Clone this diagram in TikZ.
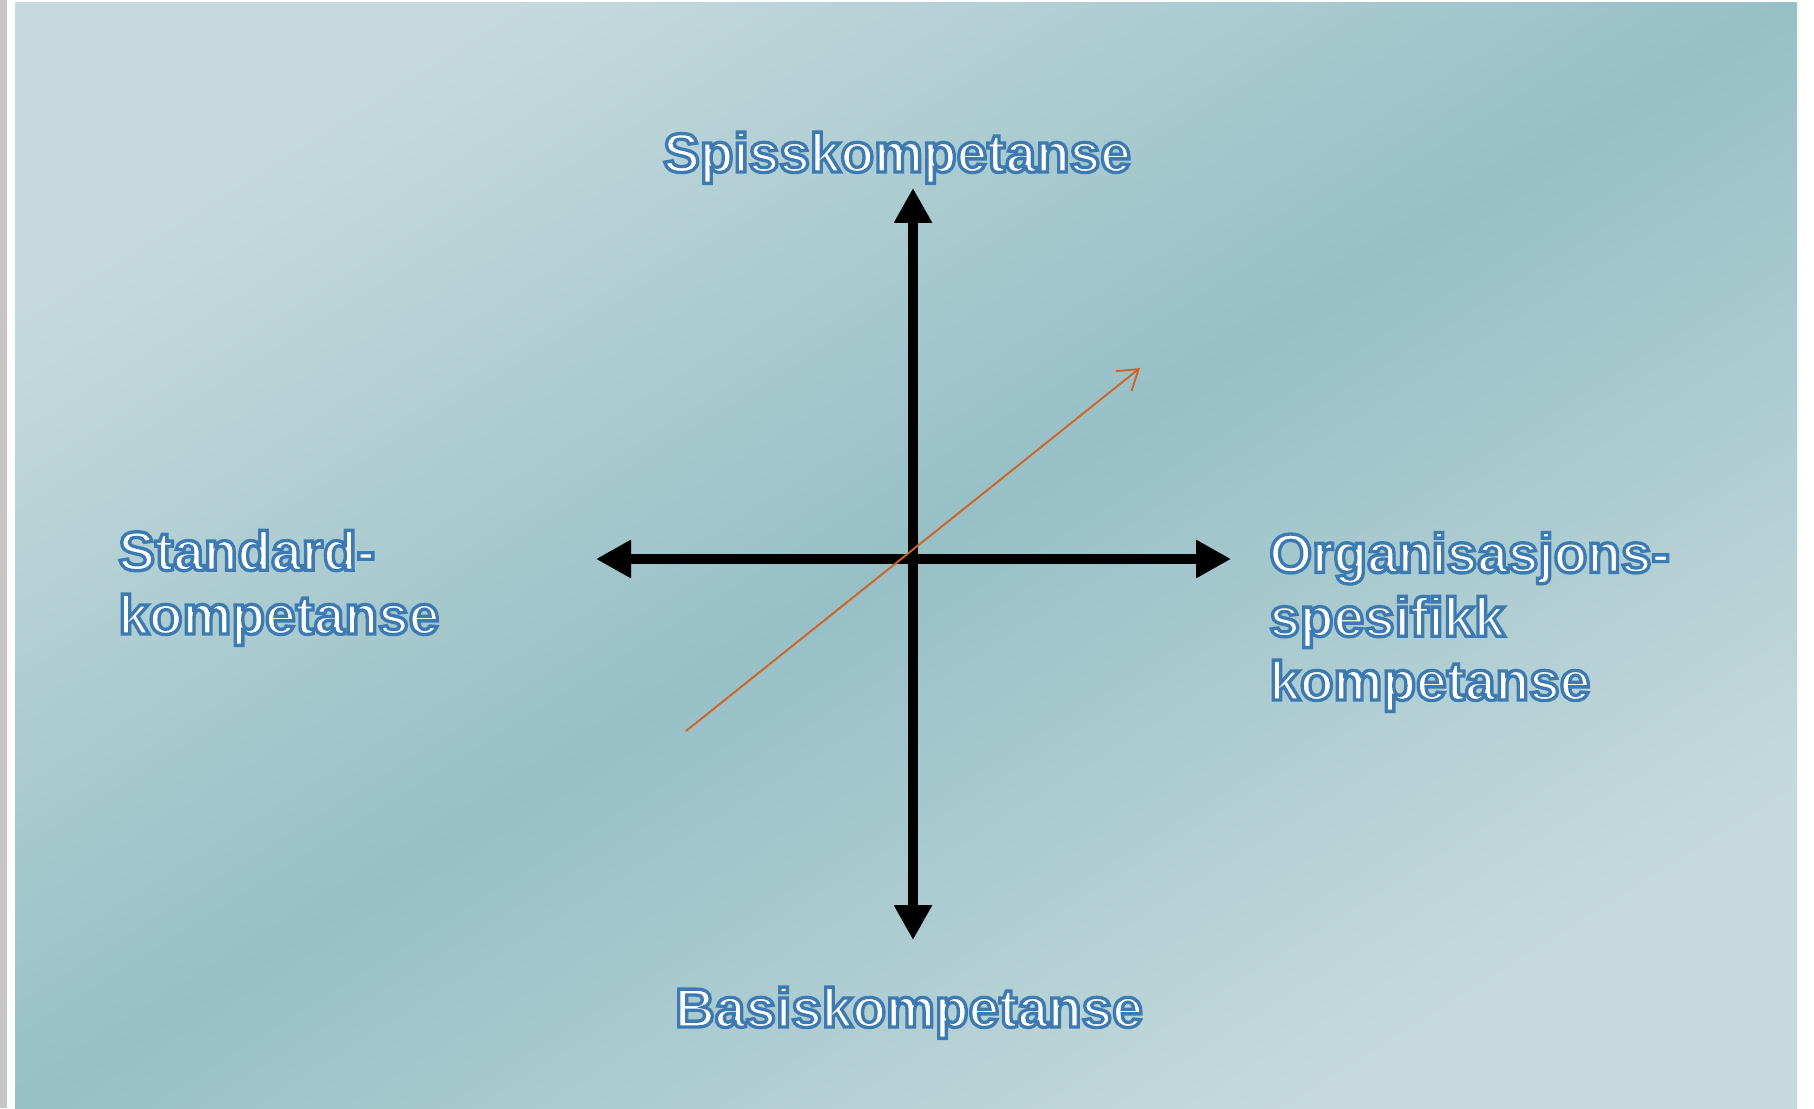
\documentclass[tikz,border=0pt]{standalone}
\usepackage{fontspec}
\usetikzlibrary{arrows.meta}
\newfontfamily\lblfont{Liberation Sans}
\definecolor{bglight}{RGB}{198,218,221}
\definecolor{bgdark}{RGB}{151,192,198}
\definecolor{trendorange}{RGB}{205,100,40}
% white letters with a blue stroked outline
\newcommand{\axislabel}[1]{\special{pdf:literal direct 0.24 0.48 0.70 RG 2 Tr 1.9 w}#1\special{pdf:literal direct 0 Tr}}
\tikzset{
  axis/.style={line width=6.2pt, arrows={Triangle[length=0.7cm,width=0.72cm]-Triangle[length=0.7cm,width=0.72cm]}},
  axisshadow/.style={axis, black, opacity=0.22, shift={(0.05,-0.08)}},
  lbl/.style={text=white, inner sep=0pt, font=\lblfont\bfseries\fontsize{31.3}{36.3}\selectfont}
}
\begin{document}
\begin{tikzpicture}
                \useasboundingbox (0,0) rectangle (36.28,22.16);
                % frame and background
                \fill[white] (0,0) rectangle (36.28,22.16);
                \fill[gray!45] (0,0) rectangle (0.14,22.16);
                \shade[top color=bglight, bottom color=bglight, middle color=bgdark, shading angle=32] (0.3,0) rectangle (35.94,22.1);

                % axes
                \coordinate (o) at (18.26,10.98);
                \coordinate (top) at (18.26,18.40);
                \coordinate (bot) at (18.26,3.36);
                \coordinate (lft) at (11.92,10.98);
                \coordinate (rgt) at (24.62,10.98);
                \draw[axisshadow] (bot) -- (top);
                \draw[axisshadow] (lft) -- (rgt);
                \draw[axis] (bot) -- (top);
                \draw[axis] (lft) -- (rgt);

                % trend
                \coordinate (ts) at (13.72,7.54);
                \coordinate (te) at (22.80,14.80);
                \draw[trendorange, line width=1.1pt, -{Straight Barb[length=0.38cm,width=0.5cm]}] (ts) -- (te);

                % labels
                \node[lbl, anchor=base] (spiss) at (17.94,18.72) {\axislabel{Spisskompetanse}};
                \node[lbl, anchor=base] (basis) at (18.18,1.62) {\axislabel{Basiskompetanse}};
                \node[lbl, anchor=base west, align=left] (std) at (2.36,9.48) {\axislabel{Standard-}\\\axislabel{kompetanse}};
                \node[lbl, anchor=base west, align=left] (org) at (25.38,8.16) {\axislabel{Organisasjons-}\\\axislabel{spesifikk}\\\axislabel{kompetanse}};
            \end{tikzpicture}
\end{document}
